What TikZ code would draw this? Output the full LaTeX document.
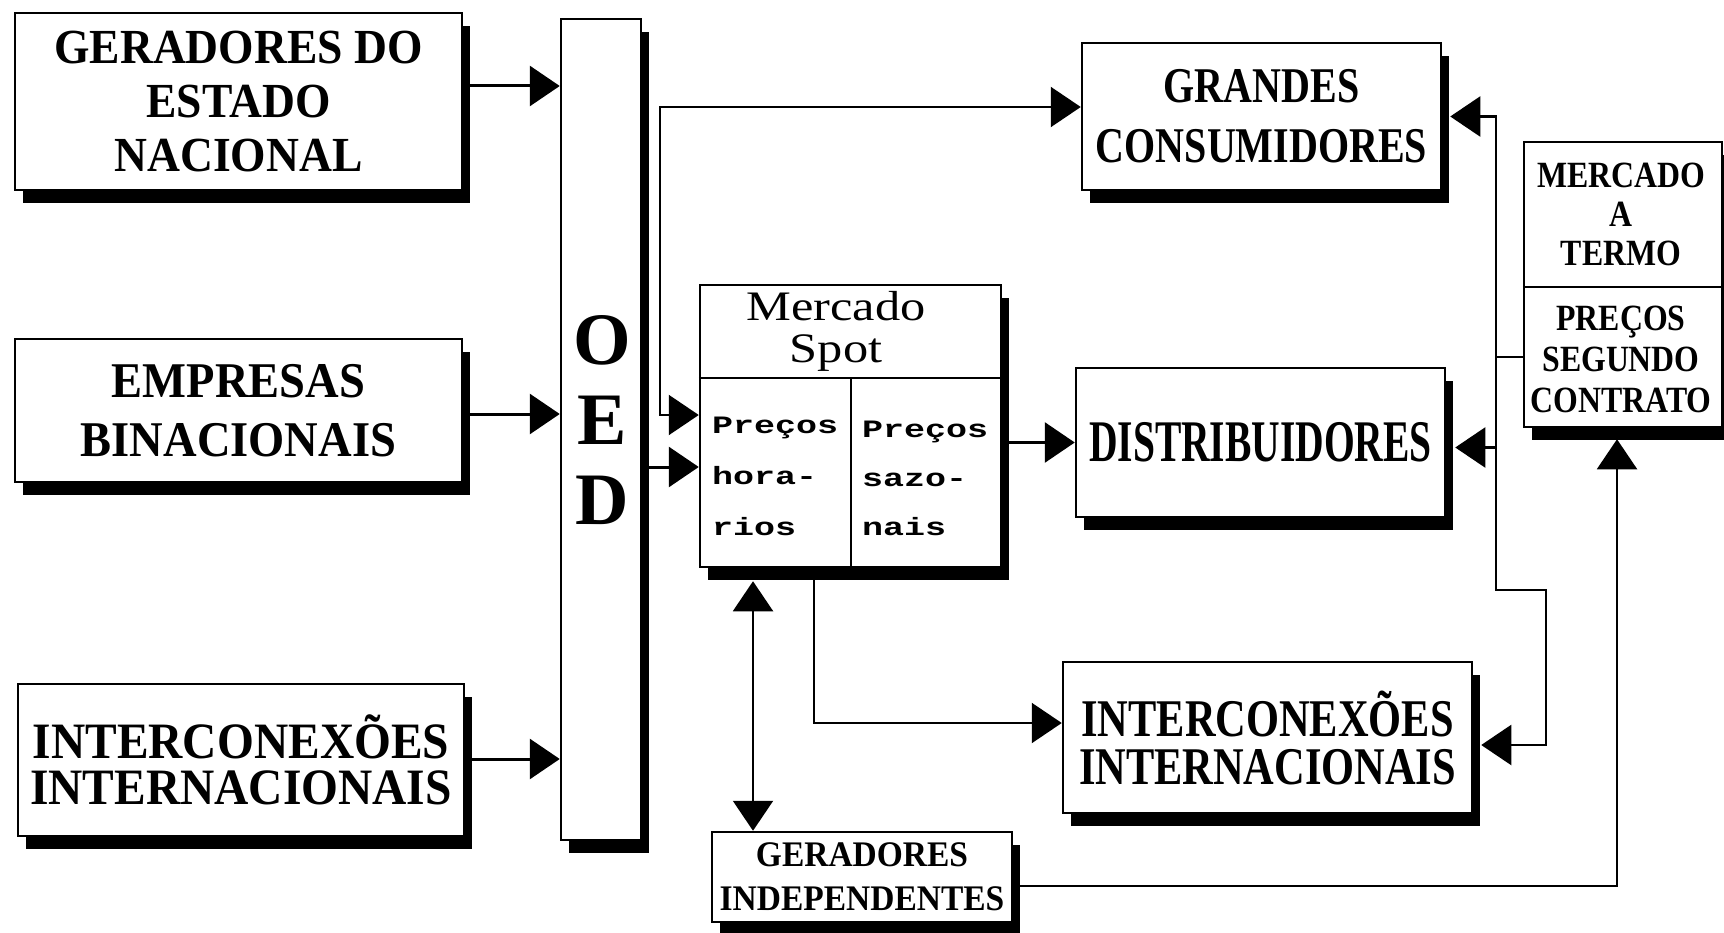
\documentclass[tikz,border=0pt]{standalone}
\usepackage{fontspec}
\setmainfont{Liberation Serif}
\newfontfamily\boxfontA[FakeStretch=0.93]{Liberation Serif}
\newfontfamily\boxfontB[FakeStretch=0.80]{Liberation Serif}
\newfontfamily\boxfontC[FakeStretch=0.67]{Liberation Serif}
\newfontfamily\termfont[FakeStretch=0.86]{Liberation Serif}
\newfontfamily\headfont[FakeStretch=1.2]{Liberation Serif}
\newfontfamily\pricefont[FakeStretch=1.4]{Liberation Mono}
\usetikzlibrary{
  arrows.meta,  % triangle tips
  shadows,      % solid drop shadows
}

\begin{document}
\begin{tikzpicture}[
  x=1pt, y=-1pt,
  >={Triangle[length=30pt, width=40pt]},
  box/.style={draw, line width=2.5pt, fill=white, inner sep=0pt, align=center,
    drop shadow={shadow xshift=8pt, shadow yshift=-13pt, fill=black, opacity=1}},
  boxtext/.style={inner sep=0pt, align=center},
  feed/.style={line width=3pt, ->},
  thinfeed/.style={line width=2.2pt, ->},
]
  % Page
  \fill[white] (0,0) rectangle (1724,933);
  \useasboundingbox (0,0) rectangle (1724,933);

  % Generators on the left
  \node[box, minimum width=447pt, minimum height=177pt,
        font=\boxfontA\bfseries\fontsize{49}{54}\selectfont]
    (gerest) at (238.5,101.5) {GERADORES DO\\ESTADO\\NACIONAL};
  \node[box, minimum width=447pt, minimum height=143pt,
        font=\boxfontA\bfseries\fontsize{50}{59}\selectfont]
    (binac) at (238.5,410.5) {EMPRESAS\\BINACIONAIS};
  \node[box, minimum width=446pt, minimum height=152pt,
        font=\boxfontA\bfseries\fontsize{51}{46}\selectfont]
    (intleft) at (241,760) {INTERCONEXÕES\\INTERNACIONAIS};

  % OED bar
  \node[box, minimum width=80pt, minimum height=821pt] (oed) at (601,429.5) {};
  \node[boxtext, font=\bfseries\fontsize{74}{80}\selectfont]
    (oedlabel) at (602.5,420) {O\\E\\D};

  % Spot market
  \node[box, minimum width=301pt, minimum height=282pt] (spot) at (850.5,426) {};
  \draw[line width=2.5pt] (spot.west |- 0,378) -- (spot.east |- 0,378);
  \draw[line width=2pt] (spot.south |- 0,378) -- (spot.south);
  \node[boxtext, font=\headfont\fontsize{42}{42}\selectfont]
    (spotname) at (836,331) {Mercado\\Spot};
  \node[boxtext, anchor=north west, align=left,
        font=\pricefont\bfseries\fontsize{25}{51}\selectfont]
    (hourly) at (712,417) {Preços\\hora-\\rios};
  \node[boxtext, anchor=north west, align=left,
        font=\pricefont\bfseries\fontsize{25}{49}\selectfont]
    (seasonal) at (862,421) {Preços\\sazo-\\nais};

  % Buyers on the right
  \node[box, minimum width=359pt, minimum height=147pt,
        font=\boxfontB\bfseries\fontsize{50}{60}\selectfont]
    (grandes) at (1261.5,116.5) {GRANDES\\CONSUMIDORES};
  \node[box, minimum width=369pt, minimum height=149pt,
        font=\boxfontC\bfseries\fontsize{59}{60}\selectfont]
    (distrib) at (1260.5,442.5) {DISTRIBUIDORES};
  \node[box, minimum width=409pt, minimum height=151pt,
        font=\boxfontB\bfseries\fontsize{53}{48}\selectfont]
    (intright) at (1267.5,737.5) {INTERCONEXÕES\\INTERNACIONAIS};

  % Forward market
  \node[box, minimum width=198pt, minimum height=285pt] (termo) at (1623,284.5) {};
  \draw[line width=2.5pt] (termo.west |- 0,287) -- (termo.east |- 0,287);
  \node[boxtext, font=\termfont\bfseries\fontsize{37}{39}\selectfont]
    (termotop) at (1621,214) {MERCADO\\A\\TERMO};
  \node[boxtext, font=\termfont\bfseries\fontsize{37}{41}\selectfont]
    (termobot) at (1621,359) {PREÇOS\\SEGUNDO\\CONTRATO};

  % Independent generators
  \node[box, minimum width=300pt, minimum height=90pt,
        font=\boxfontA\bfseries\fontsize{36}{44}\selectfont]
    (indep) at (862,877) {GERADORES\\INDEPENDENTES};

  % Inputs to OED
  \draw[feed] (gerest.east |- 0,86) -- (oed.west |- 0,86);
  \draw[feed] (binac.east |- 0,414) -- (oed.west |- 0,414);
  \draw[feed] (intleft.east |- 0,759) -- (oed.west |- 0,759);

  % OED to spot market and large consumers
  \coordinate (oedtap) at (660,107);
  \draw[thinfeed, <->] (spot.west |- 0,415) -| (oedtap) -- (grandes.west |- oedtap);
  \draw[feed] (oed.east |- 0,467) -- (spot.west |- 0,467);

  % Spot market outputs
  \draw[feed] (spot.east |- distrib.west) -- (distrib.west);
  \draw[thinfeed] ([xshift=-36.5pt]spot.south) |- (intright.west |- 0,723);
  \draw[thinfeed, <->] ([xshift=-97.5pt,yshift=-13pt]spot.south)
    -- ([xshift=-109pt]indep.north);

  % Forward market links
  \draw[thinfeed] (indep.east |- 0,886) -| ([xshift=-6pt,yshift=-11pt]termo.south);
  \coordinate (bus) at (1496,357);
  \draw[thinfeed, -] (termo.west |- bus) -- (bus);
  \draw[thinfeed] (bus) |- ([xshift=8pt]grandes.east);
  \draw[thinfeed] (bus) |- ([xshift=9pt,yshift=-5pt]distrib.east);
  \draw[thinfeed] (bus) -- (1496,590) -- (1546,590)
    |- ([xshift=8pt,yshift=-7.5pt]intright.east);
\end{tikzpicture}
\end{document}
